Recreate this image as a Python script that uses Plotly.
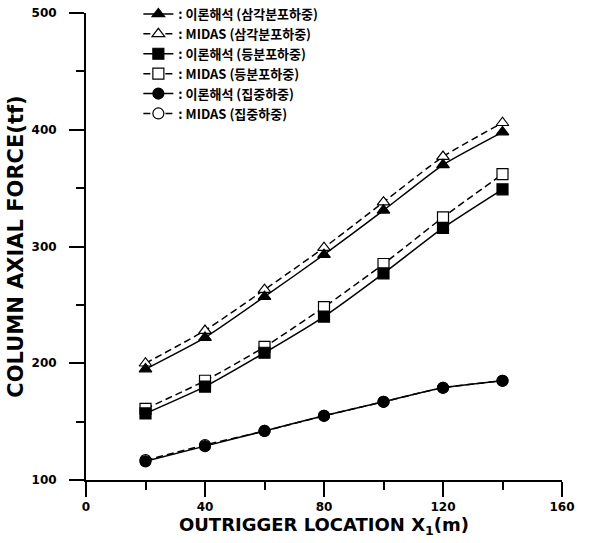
import plotly.graph_objects as go

x_loc = [20, 40, 60, 80, 100, 120, 140]

theory_tri = [195, 222, 257, 293, 331, 370, 398]
midas_tri = [200, 228, 263, 299, 338, 377, 406]
theory_sq = [157, 180, 209, 240, 277, 316, 349]
midas_sq = [161, 185, 214, 248, 285, 325, 362]
theory_ci = [116, 129, 142, 155, 167, 179, 185]
midas_ci = [117, 130, 142, 155, 167, 179, 185]

names = [
    ": 이론해석 (삼각분포하중)",
    ": MIDAS (삼각분포하중)",
    ": 이론해석 (등분포하중)",
    ": MIDAS (등분포하중)",
    ": 이론해석 (집중하중)",
    ": MIDAS (집중하중)",
]

x_ticks = [0, 40, 80, 120, 160]
y_ticks = [100, 200, 300, 400, 500]

fig = go.Figure()

series = [
    (midas_tri, names[1], "triangle-up", "white", "dash", 2, 11),
    (theory_tri, names[0], "triangle-up", "black", "solid", 1, 11),
    (midas_sq, names[3], "square", "white", "dash", 4, 11),
    (theory_sq, names[2], "square", "black", "solid", 3, 11),
    (midas_ci, names[5], "circle", "white", "dash", 6, 11),
    (theory_ci, names[4], "circle", "black", "solid", 5, 11),
]

for vals, nm, sym, fill, dash, rank, size in series:
    fig.add_trace(go.Scatter(
        x=x_loc, y=vals, name=nm, mode="lines+markers",
        line=dict(color="black", width=1.5, dash="7px,4px" if dash == "dash" else "solid",
                  shape="spline", smoothing=0.5),
        marker=dict(symbol=sym, size=size, color=fill, line=dict(color="black", width=1.2)),
        legendrank=rank,
    ))

fig.update_layout(
    width=596, height=543,
    margin=dict(l=86, r=34, t=13, b=63, autoexpand=False),
    paper_bgcolor="white", plot_bgcolor="white",
    font=dict(family="DejaVu Sans", color="black"),
    legend=dict(
        x=0.11, y=1.03, xanchor="left", yanchor="top",
        bgcolor="rgba(0,0,0,0)", borderwidth=0,
        font=dict(family="Noto Sans CJK KR", size=13, color="black", weight="bold"),
        itemwidth=30, tracegroupgap=0,
    ),
    showlegend=True,
)

fig.update_xaxes(
    range=[0, 160], tickvals=x_ticks, ticktext=[str(v) for v in x_ticks],
    showgrid=False, zeroline=False, showline=True, linecolor="black", linewidth=2,
    ticks="outside", ticklen=15, tickwidth=2, tickcolor="black",
    minor=dict(ticks="outside", ticklen=8, tickwidth=2, tickcolor="black", dtick=20, tick0=0, showgrid=False),
    tickfont=dict(family="DejaVu Sans", size=12, weight="bold"),
    title=dict(text="OUTRIGGER LOCATION X<sub>1</sub>(m)",
               font=dict(family="DejaVu Sans", size=18, weight="bold"), standoff=3),
)
fig.update_yaxes(
    range=[100, 500], tickvals=y_ticks, ticktext=[str(v) for v in y_ticks],
    showgrid=False, zeroline=False, showline=True, linecolor="black", linewidth=2,
    ticks="outside", ticklen=15, tickwidth=2, tickcolor="black",
    minor=dict(ticks="outside", ticklen=8, tickwidth=2, tickcolor="black", dtick=50, tick0=100, showgrid=False),
    tickfont=dict(family="DejaVu Sans", size=12, weight="bold"),
    ticklabelstandoff=10,
    title=dict(text="COLUMN AXIAL FORCE(tf)",
               font=dict(family="DejaVu Sans", size=21, weight="bold"), standoff=2),
)

fig.write_html("out.html")
